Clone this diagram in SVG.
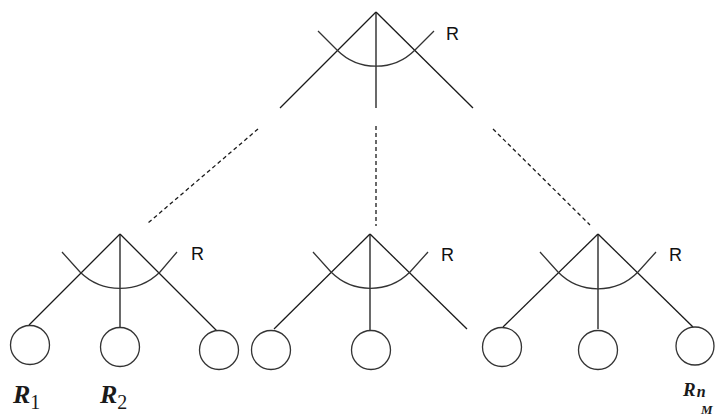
<svg xmlns="http://www.w3.org/2000/svg" width="717" height="418" viewBox="0 0 717 418">
  <style>
    .ln { stroke: #1a1a1a; stroke-width: 1.3; fill: none; }
    .arc { stroke: #333; stroke-width: 1.3; fill: none; }
    .dash { stroke: #1a1a1a; stroke-width: 1.3; fill: none; stroke-dasharray: 4 3; }
    .leaf { stroke: #333; stroke-width: 1.3; fill: #fff; }
    .lbl { font-family: "Liberation Sans", Arial, sans-serif; font-size: 18px; fill: #111; }
    .var { font-family: "Liberation Serif", "Times New Roman", serif; font-style: italic; font-weight: bold; fill: #1a1a1a; }
    .sub { font-style: normal; font-weight: normal; }
  </style>
  <rect width="717" height="418" fill="#fff"/>

  <!-- root split -->
  <g id="root">
    <line class="ln" x1="376" y1="12" x2="280" y2="108"/>
    <line class="ln" x1="376" y1="12" x2="376" y2="108"/>
    <line class="ln" x1="376" y1="12" x2="473" y2="108"/>
    <path class="arc" d="M318,31 L337,50 A55,55 0 0 0 415,50 L434,31"/>
    <text class="lbl" x="446" y="40">R</text>
  </g>

  <!-- dashed links from root to subtrees -->
  <g id="connectors">
    <line class="dash" x1="258" y1="129" x2="148" y2="223" stroke="#555"/>
    <line class="dash" x1="376" y1="126" x2="376" y2="226"/>
    <line class="dash" x1="493" y1="129" x2="590" y2="225" stroke-dasharray="3 3"/>
  </g>

  <!-- left subtree -->
  <g id="subtree-left">
    <line class="ln" x1="120" y1="234" x2="29" y2="325"/>
    <line class="ln" x1="120" y1="234" x2="120" y2="328"/>
    <line class="ln" x1="120" y1="234" x2="217" y2="331"/>
    <path class="arc" d="M62,252 L80,272 A57,57 0 0 0 160,272 L177,252"/>
    <text class="lbl" x="191" y="260">R</text>
    <circle class="leaf" cx="30" cy="345" r="19.5"/>
    <circle class="leaf" cx="120" cy="347" r="19.5"/>
    <circle class="leaf" cx="219" cy="350" r="19.5"/>
    <text class="var" x="13" y="403" font-size="26">R<tspan class="sub" font-size="20" dy="6">1</tspan></text>
    <text class="var" x="100" y="403" font-size="26">R<tspan class="sub" font-size="20" dy="6">2</tspan></text>
  </g>

  <!-- middle subtree -->
  <g id="subtree-middle">
    <line class="ln" x1="370" y1="234" x2="274" y2="329"/>
    <line class="ln" x1="370" y1="234" x2="370" y2="330"/>
    <line class="ln" x1="370" y1="234" x2="467" y2="329"/>
    <path class="arc" d="M313,252 L331,272 A56,56 0 0 0 410,272 L428,252"/>
    <text class="lbl" x="441" y="261">R</text>
    <circle class="leaf" cx="271" cy="350" r="19.5"/>
    <circle class="leaf" cx="371" cy="350" r="19.5"/>
  </g>

  <!-- right subtree -->
  <g id="subtree-right">
    <line class="ln" x1="598" y1="234" x2="503" y2="327"/>
    <line class="ln" x1="598" y1="234" x2="598" y2="329"/>
    <line class="ln" x1="598" y1="234" x2="693" y2="327"/>
    <path class="arc" d="M540,252 L558,272 A56,56 0 0 0 638,272 L656,252"/>
    <text class="lbl" x="669" y="261">R</text>
    <circle class="leaf" cx="502" cy="347" r="19.5"/>
    <circle class="leaf" cx="598" cy="350" r="19.5"/>
    <circle class="leaf" cx="695" cy="346" r="19"/>
    <text class="var" x="683" y="396" font-size="19">R<tspan font-size="16" dx="1" dy="1">n</tspan></text>
    <text class="var" x="701" y="414" font-size="13">M</text>
  </g>
</svg>
